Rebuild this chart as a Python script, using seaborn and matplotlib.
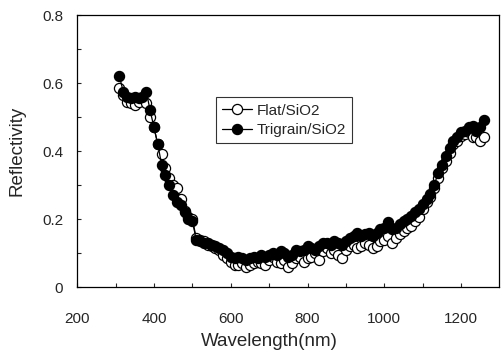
import numpy as np
import pandas as pd
import matplotlib
matplotlib.use("Agg")
import matplotlib.pyplot as plt
import seaborn as sns

# wavelength grid (nm)
wavelength = list(range(310, 1270, 10))

flat_sio2 = [
    0.585, 0.565, 0.545, 0.540, 0.535, 0.545, 0.555, 0.540, 0.500, 0.470,
    0.420, 0.390, 0.350, 0.320, 0.300, 0.290, 0.260, 0.225, 0.205, 0.200,
    0.145, 0.140, 0.135, 0.125, 0.120, 0.115, 0.110, 0.095, 0.085, 0.075,
    0.065, 0.065, 0.070, 0.060, 0.065, 0.070, 0.075, 0.070, 0.065, 0.080,
    0.090, 0.075, 0.070, 0.080, 0.060, 0.070, 0.085, 0.090, 0.075, 0.085,
    0.090, 0.100, 0.080, 0.105, 0.115, 0.100, 0.110, 0.095, 0.085, 0.110,
    0.120, 0.125, 0.115, 0.120, 0.130, 0.125, 0.115, 0.120, 0.135, 0.140,
    0.150, 0.130, 0.145, 0.155, 0.165, 0.175, 0.180, 0.195, 0.205, 0.230,
    0.250, 0.265, 0.290, 0.320, 0.350, 0.370, 0.395, 0.420, 0.430, 0.445,
    0.450, 0.455, 0.440, 0.440, 0.430, 0.440,
]

trigrain_sio2 = [
    0.620, 0.575, 0.560, 0.555, 0.560, 0.555, 0.560, 0.575, 0.520, 0.470,
    0.420, 0.360, 0.330, 0.300, 0.270, 0.250, 0.240, 0.220, 0.200, 0.195,
    0.140, 0.135, 0.130, 0.130, 0.125, 0.120, 0.115, 0.110, 0.100, 0.090,
    0.085, 0.090, 0.085, 0.080, 0.085, 0.090, 0.085, 0.095, 0.090, 0.095,
    0.100, 0.095, 0.105, 0.100, 0.090, 0.095, 0.110, 0.105, 0.110, 0.120,
    0.115, 0.110, 0.120, 0.130, 0.130, 0.125, 0.135, 0.130, 0.125, 0.135,
    0.145, 0.150, 0.160, 0.150, 0.155, 0.160, 0.150, 0.160, 0.170, 0.175,
    0.190, 0.170, 0.175, 0.185, 0.195, 0.200, 0.210, 0.220, 0.230, 0.245,
    0.260, 0.275, 0.300, 0.335, 0.360, 0.385, 0.410, 0.430, 0.440, 0.455,
    0.460, 0.470, 0.475, 0.460, 0.470, 0.490,
]

x_ticks = [200, 400, 600, 800, 1000, 1200]
y_ticks = [0, 0.2, 0.4, 0.6, 0.8]
y_labels = ["0", "0.2", "0.4", "0.6", "0.8"]

df = pd.DataFrame({"wl": wavelength, "flat": flat_sio2, "tri": trigrain_sio2})

sns.set_style("ticks")
plt.rcParams["font.family"] = ["Liberation Sans", "DejaVu Sans"]

fig = plt.figure(figsize=(5.01, 3.58), dpi=100)
ax = fig.add_axes([0.154, 0.198, 0.843, 0.760])

sns.lineplot(data=df, x="wl", y="flat", ax=ax, color="black", lw=0.9,
             marker="o", markersize=7.3, markerfacecolor="white",
             markeredgecolor="black", markeredgewidth=0.9, label="Flat/SiO2")
sns.lineplot(data=df, x="wl", y="tri", ax=ax, color="black", lw=0.9,
             marker="o", markersize=7.3, markerfacecolor="black",
             markeredgecolor="black", markeredgewidth=0.9, label="Trigrain/SiO2")

ax.set_xlim(200, 1300)
ax.set_ylim(0, 0.8)
ax.set_xticks(x_ticks)
ax.set_xticks(range(300, 1300, 200), minor=True)
ax.set_yticks(y_ticks)
ax.set_yticklabels(y_labels)
ax.set_yticks([0.1, 0.3, 0.5, 0.7], minor=True)
ax.tick_params(which="both", direction="in", length=3, width=0.8, labelsize=11)
ax.tick_params(axis="x", pad=18)
ax.tick_params(axis="y", pad=10)
for s in ax.spines.values():
    s.set_linewidth(0.9)
    s.set_color("black")

ax.set_xlabel("Wavelength(nm)", fontsize=13.5)
ax.xaxis.set_label_coords(0.455, -0.17)
ax.set_ylabel("Reflectivity", fontsize=13.5, labelpad=12)

leg = ax.legend(loc="upper left", bbox_to_anchor=(0.31, 0.725), fontsize=11,
                frameon=True, fancybox=False, handlelength=2.0,
                borderpad=0.4, labelspacing=0.35, handletextpad=0.3)
leg.get_frame().set_edgecolor("black")
leg.get_frame().set_linewidth(0.8)

fig.savefig("out.png", dpi=100)
